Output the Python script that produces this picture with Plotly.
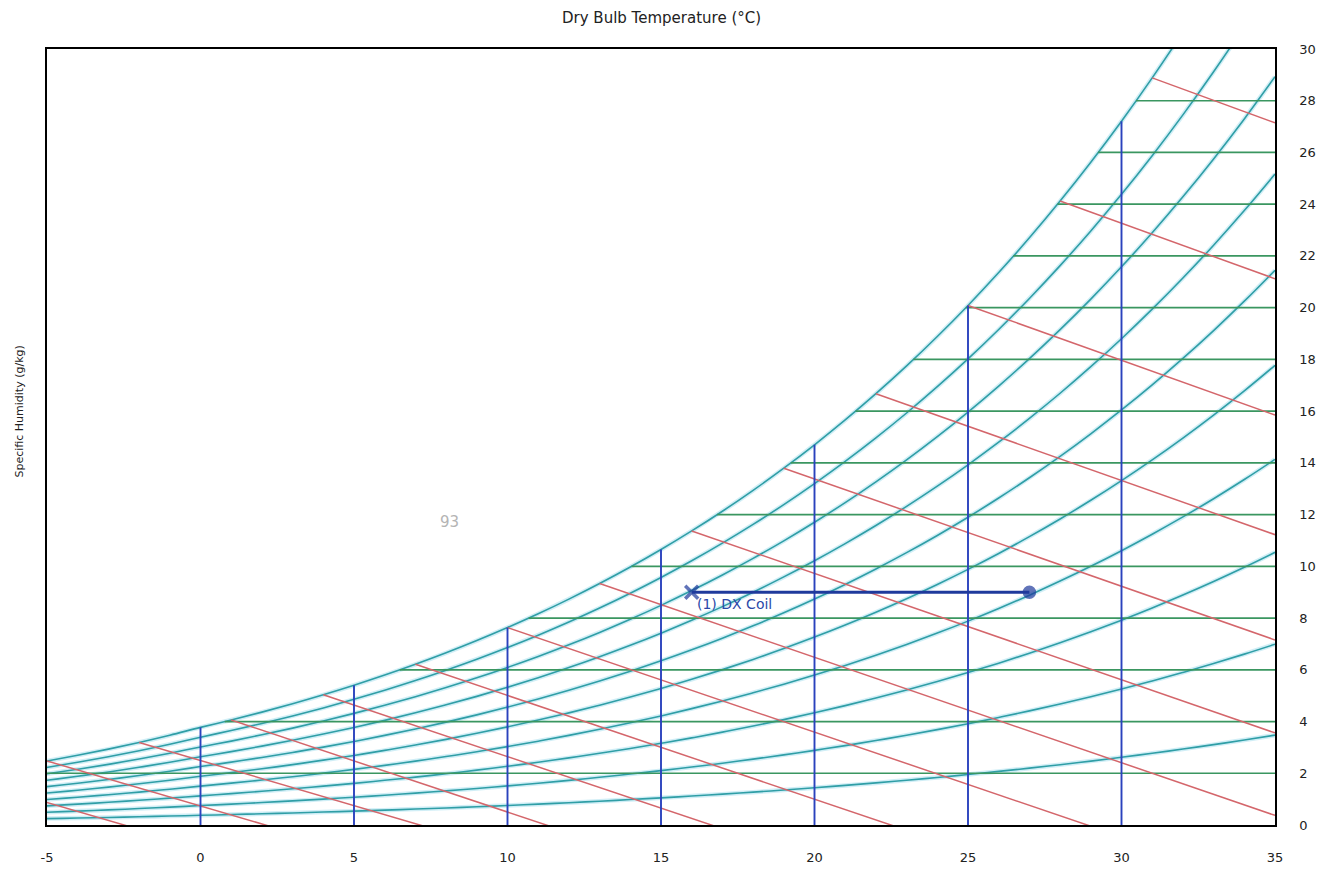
import numpy as np
import plotly.graph_objects as go

# Saturation table read for the chart (dry bulb in °C, vapour pressure in kPa, ice below 0 °C)
temps = list(range(-8, 36))
p_sat_kpa = [
    0.3102, 0.3378, 0.3685, 0.4015, 0.4372, 0.4757, 0.5173, 0.5623,
    0.6112, 0.6571, 0.7060, 0.7581, 0.8135, 0.8726, 0.9354, 1.0021,
    1.0730, 1.1482, 1.2282, 1.3129, 1.4028, 1.4981, 1.5989, 1.7057,
    1.8188, 1.9383, 2.0647, 2.1982, 2.3392, 2.4881, 2.6452, 2.8109,
    2.9856, 3.1697, 3.3637, 3.5679, 3.7828, 4.0089, 4.2467, 4.4966,
    4.7592, 5.0351, 5.3247, 5.6286,
]
pressure_kpa = 101.325

rh_levels = [0.1, 0.2, 0.3, 0.4, 0.5, 0.6, 0.7, 0.8, 0.9, 1.0]
wet_bulb_temps = [-8, -5, -2, 1, 4, 7, 10, 13, 16, 19, 22, 25, 28, 31]
dry_bulb_lines = [0, 5, 10, 15, 20, 25, 30]
humidity_lines = [2, 4, 6, 8, 10, 12, 14, 16, 18, 20, 22, 24, 26, 28]

# (1) DX Coil process: coil leaving (x) <- coil entering (dot)
coil_t = [16.0, 27.0]
coil_w = [9.0, 9.0]

x_ticks = [-5, 0, 5, 10, 15, 20, 25, 30, 35]
y_ticks = list(range(0, 31, 2))

FONT = "DejaVu Sans, Verdana, sans-serif"
RH_COLOR = "#2f9ea6"
RH_HALO = "rgba(120, 205, 230, 0.35)"
W_COLOR = "#3a9660"
WB_COLOR = "#d4666b"
DB_COLOR = "#2a42bd"
PROC_COLOR = "#1f3a9c"

t_arr = np.array(temps, dtype=float)
ps = np.array(p_sat_kpa)


def humidity_at(phi):
    # g/kg of dry air
    return 622.0 * phi * ps / (pressure_kpa - phi * ps)


w_sat = humidity_at(1.0)


def sat_at(t):
    return float(np.interp(t, t_arr, w_sat))


def wet_bulb_w(twb, t):
    ws = sat_at(twb) / 1000.0
    if twb >= 0:
        w = ((2501 - 2.326 * twb) * ws - 1.006 * (t - twb)) / (2501 + 1.86 * t - 4.186 * twb)
    else:
        w = ((2830 - 0.24 * twb) * ws - 1.006 * (t - twb)) / (2830 + 1.86 * t - 2.1 * twb)
    return w * 1000.0


fig = go.Figure()

# relative humidity curves (soft halo + core, like the printed chart)
for phi in rh_levels:
    w_curve = humidity_at(phi)
    fig.add_trace(go.Scatter(
        x=t_arr, y=w_curve, mode="lines",
        line=dict(color=RH_HALO, width=4.5, shape="spline"),
        hoverinfo="skip", showlegend=False,
    ))
    fig.add_trace(go.Scatter(
        x=t_arr, y=w_curve, mode="lines",
        line=dict(color=RH_COLOR, width=1.6, shape="spline"),
        hoverinfo="skip", showlegend=False,
    ))

# constant specific humidity lines, from the dew point to the right edge
gx, gy = [], []
for w in humidity_lines:
    t_dew = float(np.interp(w, w_sat, t_arr))
    gx += [t_dew, 35, None]
    gy += [w, w, None]
fig.add_trace(go.Scatter(x=gx, y=gy, mode="lines",
                         line=dict(color=W_COLOR, width=1.7),
                         hoverinfo="skip", showlegend=False))

# wet bulb lines
rx, ry = [], []
for twb in wet_bulb_temps:
    rx += [twb, 35, None]
    ry += [sat_at(twb), wet_bulb_w(twb, 35), None]
fig.add_trace(go.Scatter(x=rx, y=ry, mode="lines",
                         line=dict(color=WB_COLOR, width=1.5),
                         hoverinfo="skip", showlegend=False))

# dry bulb lines up to saturation
bx, by = [], []
for t in dry_bulb_lines:
    bx += [t, t, None]
    by += [0, sat_at(t), None]
fig.add_trace(go.Scatter(x=bx, y=by, mode="lines",
                         line=dict(color=DB_COLOR, width=1.9),
                         hoverinfo="skip", showlegend=False))

# process line
fig.add_trace(go.Scatter(
    x=coil_t, y=coil_w, mode="lines+markers",
    line=dict(color=PROC_COLOR, width=3),
    marker=dict(symbol=["x-thin", "circle"], size=[13, 10],
                color=PROC_COLOR, line=dict(color=PROC_COLOR, width=3.5)),
    hoverinfo="skip", showlegend=False,
))
fig.add_annotation(x=coil_t[0], y=coil_w[0], text="(1) DX Coil", showarrow=False,
                   xanchor="left", yanchor="middle", xshift=3, yshift=-12,
                   font=dict(family=FONT, size=14, color="#2b48a8"))

# scan residue in the blank area
fig.add_annotation(x=8.1, y=11.7, text="93", showarrow=False,
                   font=dict(family=FONT, size=15, color="#b4b4b4"))

# axis titles
fig.add_annotation(xref="paper", yref="paper", x=0.5, y=1, yanchor="middle", yshift=31,
                   text="Dry Bulb Temperature (°C)", showarrow=False,
                   font=dict(family=FONT, size=15, color="#222"))
fig.add_annotation(xref="paper", yref="paper", x=0, xshift=-37, y=0.5, yshift=25,
                   text="Specific Humidity (g/kg)", textangle=-90, showarrow=False,
                   font=dict(family=FONT, size=11, color="#222"))

fig.update_layout(
    width=1329, height=872,
    paper_bgcolor="white", plot_bgcolor="white",
    margin=dict(l=39, r=62, t=41, b=55),
    font=dict(family=FONT, size=12, color="#222"),
)
fig.update_xaxes(range=[-5, 35], tickvals=x_ticks, ticktext=[str(v) for v in x_ticks],
                 tickfont=dict(family=FONT, size=13, color="#222"),
                 showgrid=False, zeroline=False,
                 showline=True, mirror=True, linecolor="black", linewidth=1.5,
                 ticks="", ticklabelstandoff=20)
fig.update_yaxes(range=[0, 30], tickvals=y_ticks, side="right", showgrid=False,
                 tickfont=dict(family=FONT, size=13, color="#222"),
                 zeroline=False, showline=True, mirror=True, linecolor="black",
                 linewidth=1.5, ticks="", ticklabelstandoff=20)

fig.write_html("out.html")
